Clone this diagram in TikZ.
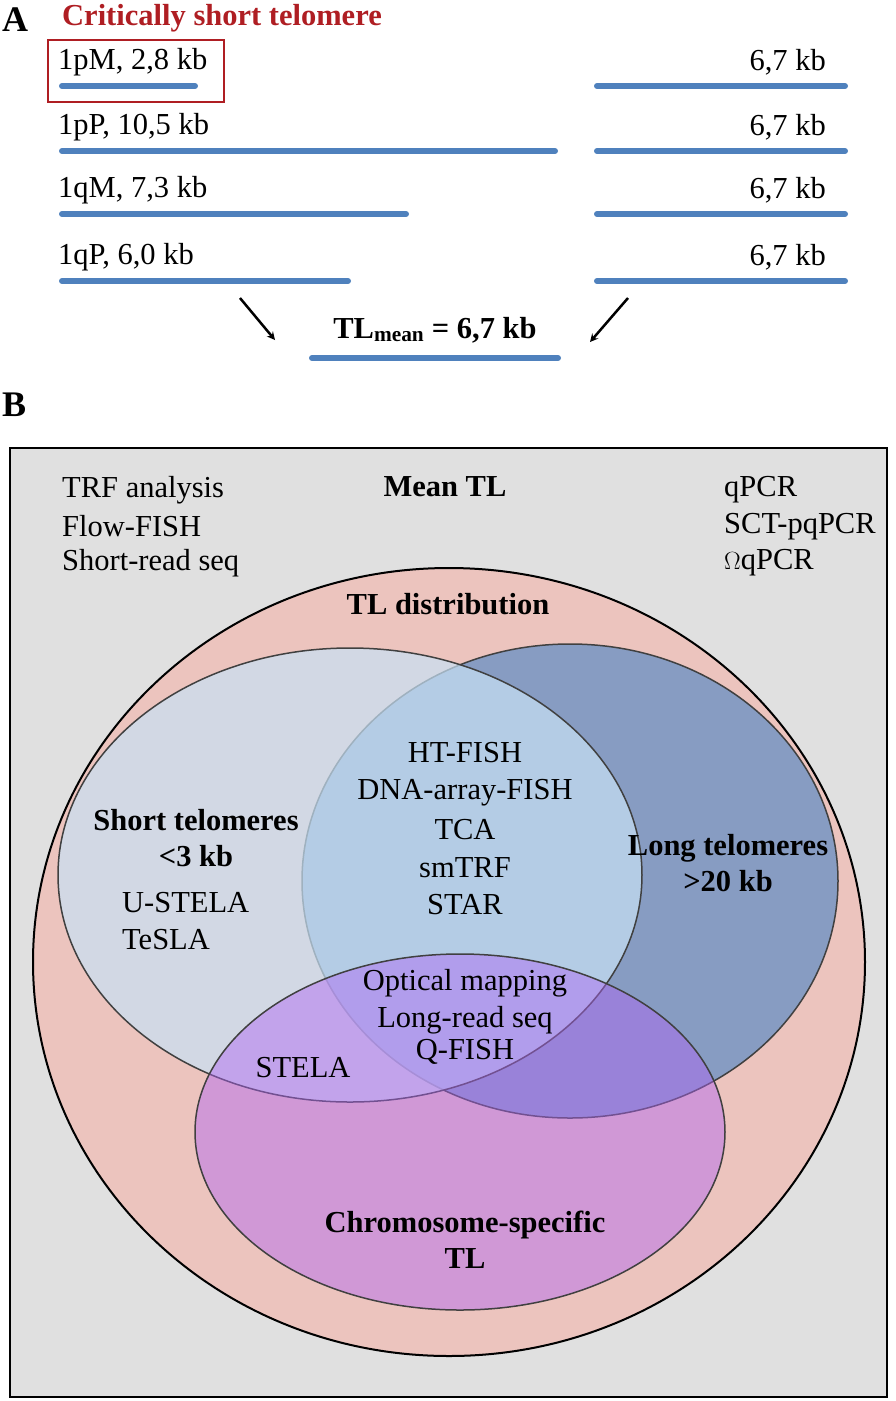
\documentclass[tikz,border=0pt]{standalone}
\usepackage{fontspec}
\setmainfont{Liberation Serif}
\begin{document}
\begin{tikzpicture}[x=1pt,y=-1pt,
  tl/.style={draw=tlblue,line width=6pt,line cap=round},
  txt/.style={font=\fontsize{30.5}{34}\selectfont,inner sep=0pt},
  btxt/.style={font=\fontsize{30.5}{34}\selectfont\bfseries,inner sep=0pt,align=center},
  arr/.style={-stealth,line width=2.5pt}]
\definecolor{tlblue}{RGB}{79,129,189}
\definecolor{dred}{RGB}{175,30,35}
\useasboundingbox (0,0) rectangle (896,1401);
% Part A
\node[btxt,font=\fontsize{36}{40}\selectfont\bfseries,anchor=west] (A) at (2,20) {A};
\node[btxt,text=dred,anchor=west] (crit) at (62,18) {Critically short telomere};
\draw[dred,line width=2.5pt] (48,40) rectangle (224,102);
\foreach \y/\lab/\len/\n in {62/1pM{,} 2{,}8 kb/195/1,127/1pP{,} 10{,}5 kb/555/2,190/1qM{,} 7{,}3 kb/406/3,257/1qP{,} 6{,}0 kb/348/4}{
  \node[txt,anchor=west] (l\n) at (58,\y) {\lab};
  \node[txt,anchor=east] (r\n) at (826,\y) {6,7 kb};
  \coordinate (la\n) at (62,\y+24); \coordinate (lb\n) at (\len,\y+24);
  \coordinate (ra\n) at (597,\y+24); \coordinate (rb\n) at (845,\y+24);
  \draw[tl] (la\n) -- (lb\n);
  \draw[tl] (ra\n) -- (rb\n);
}
\node[btxt] (mean) at (435,330) {TL\textsubscript{mean} = 6,7 kb};
\coordinate (a1) at (240,298); \coordinate (a2) at (628,298);
\draw[arr] (a1) -- (275,340);
\draw[arr] (a2) -- (590,342);
\coordinate (m1) at (312,358); \coordinate (m2) at (558,358);
\draw[tl] (m1) -- (m2);
% Part B
\node[btxt,font=\fontsize{36}{40}\selectfont\bfseries,anchor=west] (B) at (2,405) {B};
\draw[fill={rgb,255:red,224;green,224;blue,224},line width=2.5pt] (10,448) rectangle (887,1397);
\begin{scope}
\clip (10,448) rectangle (887,1397);
\fill[fill={rgb,255:red,236;green,196;blue,190}] (449,962) ellipse [x radius=416,y radius=394];
\draw[line width=2pt,black] (449,962) ellipse [x radius=416,y radius=394];
\end{scope}
\node[txt,anchor=west] at (62,490) {TRF analysis};
\node[txt,anchor=west] at (62,526) {Flow-FISH};
\node[txt,anchor=west] at (62,563) {Short-read seq};
\node[btxt] at (445,487) {Mean TL};
\node[txt,anchor=west] at (724,490) {qPCR};
\node[txt,anchor=west] at (724,527) {SCT-pqPCR};
\node[txt,anchor=west] at (724,563) {$\Omega$qPCR};
\node[btxt] at (448,604) {TL distribution};
\draw[line width=1.5pt,black!75,fill={rgb,255:red,125;green,152;blue,195},fill opacity=0.9] (570,881) ellipse [x radius=268,y radius=237];
\draw[line width=1.5pt,black!75,fill={rgb,255:red,200;green,225;blue,245},fill opacity=0.7] (350,875) ellipse [x radius=292,y radius=227];
\draw[line width=1.5pt,black!75,fill={rgb,255:red,175;green,100;blue,245},fill opacity=0.45] (460,1132) ellipse [x radius=265,y radius=178];
\foreach \y/\t in {753/HT-FISH,793/DNA-array-FISH,830/TCA,868/smTRF,905/STAR,983/Optical mapping,1020/Long-read seq,1052/Q-FISH}
  \node[txt] at (465,\y) {\t};
\node[btxt] at (196,838) {Short telomeres\\[2pt]<3 kb};
\node[txt,anchor=west] at (122,903) {U-STELA};
\node[txt,anchor=west] at (122,940) {TeSLA};
\node[btxt] at (728,863) {Long telomeres\\[2pt]>20 kb};
\node[txt] at (303,1068) {STELA};
\node[btxt] at (465,1240) {Chromosome-specific\\[2pt]TL};
\end{tikzpicture}
\end{document}
